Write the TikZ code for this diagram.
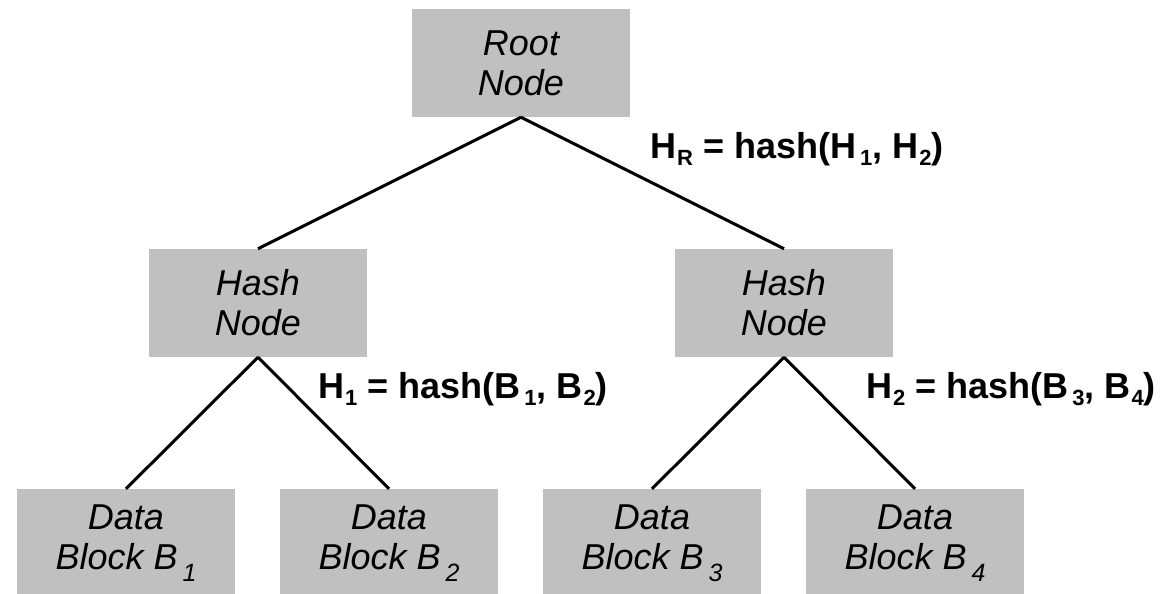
\documentclass[tikz,border=0pt]{standalone}
\usepackage{fontspec}
\setmainfont{Liberation Sans}
\definecolor{boxgray}{RGB}{192,192,192}
% lowered indices in text font: small one for the equations, larger one in the blocks
\newcommand\eqidx[1]{\raisebox{-7pt}{\fontsize{22}{22}\selectfont #1}}
\newcommand\blkidx[1]{\raisebox{-12pt}{\fontsize{25}{25}\selectfont #1}}
\begin{document}
\begin{tikzpicture}[x=1pt,y=-1pt]
\tikzset{
  box/.style={fill=boxgray, minimum width=218pt, minimum height=108pt, inner sep=0pt,
              align=center, font=\fontsize{36}{40}\selectfont\itshape},
  link/.style={line width=3pt, black},
  eq/.style={anchor=base west, inner sep=0pt, font=\fontsize{36}{40}\selectfont\bfseries}
}
\useasboundingbox (0,0) rectangle (1160,594);
\clip (0,0) rectangle (1160,594);

% tree nodes
\node[box] (root) at (521,63) {Root\\Node};
\node[box] (hl) at (258,303) {Hash\\Node};
\node[box] (hr) at (784,303) {Hash\\Node};
\node[box] (d1) at (126,543) {Data\\Block B\kern5pt\blkidx{1}};
\node[box] (d2) at (389,543) {Data\\Block B\kern5pt\blkidx{2}};
\node[box] (d3) at (652,543) {Data\\Block B\kern5pt\blkidx{3}};
\node[box] (d4) at (915,543) {Data\\Block B\kern5pt\blkidx{4}};

% connectors
\draw[link] (root.south) -- (hl.north);
\draw[link] (root.south) -- (hr.north);
\draw[link] (hl.south) -- (d1.north);
\draw[link] (hl.south) -- (d2.north);
\draw[link] (hr.south) -- (d3.north);
\draw[link] (hr.south) -- (d4.north);

% hash equations
\node[eq] (eqr) at (650,158) {H\kern1pt\eqidx{R} = hash(H\kern4pt\eqidx{1}, H\kern1pt\eqidx{2})};
\node[eq] (eq1) at (318,398) {H\kern1pt\eqidx{1} = hash(B\kern4pt\eqidx{1}, B\kern1pt\eqidx{2})};
\node[eq] (eq2) at (866,398) {H\kern1pt\eqidx{2} = hash(B\kern4pt\eqidx{3}, B\kern1pt\eqidx{4})};
\end{tikzpicture}
\end{document}
